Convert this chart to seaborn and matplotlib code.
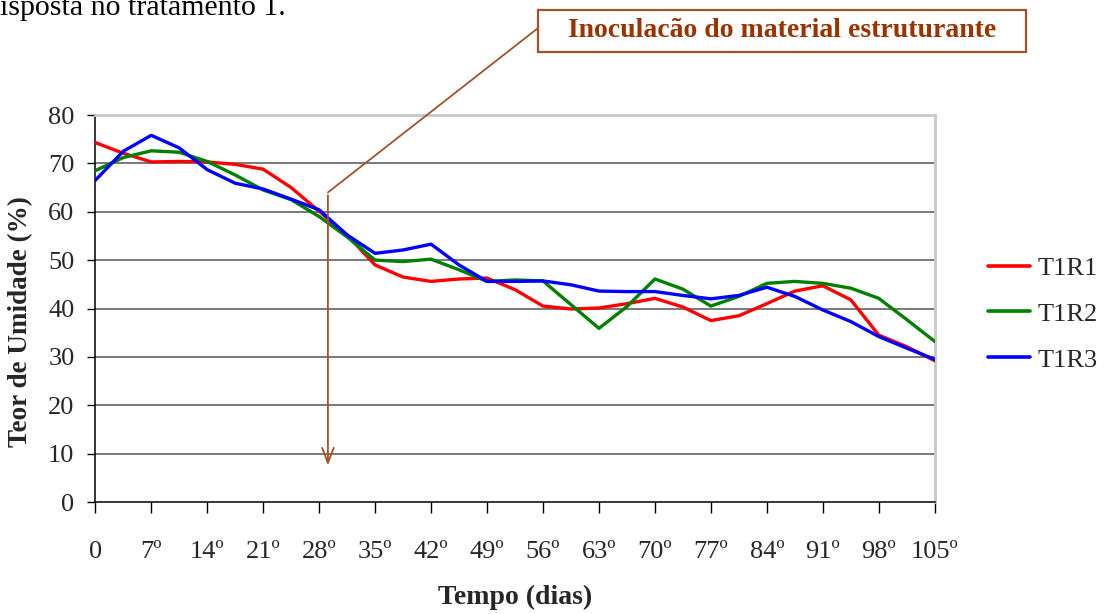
import numpy as np
import pandas as pd
import matplotlib
matplotlib.use("Agg")
import matplotlib.pyplot as plt
from matplotlib.patches import Rectangle
import seaborn as sns

# Moisture content (%) sampled twice a week over 105 days
dias = [0, 3.5, 7, 10.5, 14, 17.5, 21, 24.5, 28, 31.5, 35, 38.5, 42, 45.5, 49,
        52.5, 56, 59.5, 63, 66.5, 70, 73.5, 77, 80.5, 84, 87.5, 91, 94.5, 98,
        101.5, 105]
t1r1 = [74.3, 72.1, 70.3, 70.4, 70.3, 69.8, 68.8, 65.0, 60.1, 55.2, 49.0, 46.5,
        45.6, 46.1, 46.3, 43.9, 40.5, 39.9, 40.1, 41.0, 42.1, 40.3, 37.5, 38.5,
        41.0, 43.6, 44.7, 41.8, 34.5, 32.1, 29.2]
t1r2 = [68.5, 71.2, 72.6, 72.3, 70.4, 67.6, 64.5, 62.5, 59.0, 54.8, 50.0, 49.7,
        50.2, 48.0, 45.6, 45.9, 45.7, 40.8, 35.9, 40.4, 46.1, 44.0, 40.5, 42.5,
        45.2, 45.6, 45.2, 44.2, 42.1, 37.7, 33.2]
t1r3 = [66.5, 72.5, 75.8, 73.2, 68.7, 65.9, 64.7, 62.6, 60.4, 55.2, 51.4, 52.1,
        53.3, 49.0, 45.6, 45.6, 45.7, 44.9, 43.6, 43.5, 43.5, 42.7, 42.0, 42.7,
        44.4, 42.5, 39.7, 37.3, 34.2, 31.8, 29.5]
series_names = ["T1R1", "T1R2", "T1R3"]
series_colors = ["#FF0000", "#008000", "#0000FF"]

x_ticks = list(range(0, 106, 7))
x_tick_labels = ["0"] + [f"{d}º" for d in x_ticks[1:]]
y_ticks = list(range(0, 81, 10))

inoculation_day = 29.1
annotation_text = "Inoculacão do material estruturante"

df = pd.DataFrame({
    "dia": dias * 3,
    "umidade": t1r1 + t1r2 + t1r3,
    "serie": [s for s in series_names for _ in dias],
})

sns.set_theme(style="white")
plt.rcParams["font.family"] = ["Liberation Serif", "DejaVu Serif"]

fig = plt.figure(figsize=(11.04, 6.14), dpi=100)
ax = fig.add_axes([0.0863, 0.1824, 0.7604, 0.6303])

sns.lineplot(data=df, x="dia", y="umidade", hue="serie", palette=series_colors,
             linewidth=2.4, ax=ax, legend=False, zorder=3)

ax.set_xlim(0, 105)
ax.set_ylim(0, 80)
ax.set_xticks(x_ticks)
ax.set_xticklabels(x_tick_labels)
ax.set_yticks(y_ticks)
ax.tick_params(axis="x", direction="out", length=8, width=1, color="black",
               pad=20, labelsize=19, bottom=True)
ax.tick_params(axis="y", direction="out", length=6, width=1, color="black",
               pad=9, labelsize=19, left=True)

for v in y_ticks[1:-1]:
    ax.axhline(v, color="#555555", linewidth=1.1, zorder=1)

for side in ["left", "bottom"]:
    ax.spines[side].set_color("black")
    ax.spines[side].set_linewidth(1.1)
for side in ["top", "right"]:
    ax.spines[side].set_color("#c8c8c8")
    ax.spines[side].set_linewidth(2)

ax.set_xlabel("Tempo (dias)", fontsize=20, fontweight="bold", labelpad=16)
ax.set_ylabel("Teor de Umidade (%)", fontsize=19.5, fontweight="bold")
ax.yaxis.set_label_coords(-0.0743, 0.465)

handles = [plt.Line2D([], [], color=c, linewidth=2.6) for c in series_colors]
ax.legend(handles, series_names, loc="center left", bbox_to_anchor=(1.063, 0.486),
          frameon=False, fontsize=19, handlelength=1.6, handletextpad=0.3,
          labelspacing=0.85, borderpad=0, borderaxespad=0)

# Inoculation marker: arrow down to the axis and a leader line to the caption box
arrow_color = "#A0522D"
box_x0, box_x1 = 55.4, 116.4
box_y0, box_y1 = 93.1, 101.8
ax.annotate("", xy=(inoculation_day, 7.0), xytext=(inoculation_day, 64.0),
            arrowprops=dict(arrowstyle="->,head_length=0.9,head_width=0.35",
                            color=arrow_color, lw=1.3), zorder=4)
ax.plot([inoculation_day, box_x0], [64.0, 98.0], color=arrow_color, lw=1.3,
        clip_on=False, zorder=4)
ax.add_patch(Rectangle((box_x0, box_y0), box_x1 - box_x0, box_y1 - box_y0,
                       facecolor="white", edgecolor=arrow_color, lw=1.6,
                       clip_on=False, zorder=5))
ax.text((box_x0 + box_x1) / 2, (box_y0 + box_y1) / 2, annotation_text,
        fontsize=20, fontweight="bold", color="#993300", ha="center",
        va="center", zorder=6, clip_on=False)

fig.text(0.0, 1 - 15 / 614, "isposta no tratamento 1.", fontsize=21.5,
         ha="left", va="baseline", color="black")

fig.savefig("out.png", dpi=100, facecolor="white")
